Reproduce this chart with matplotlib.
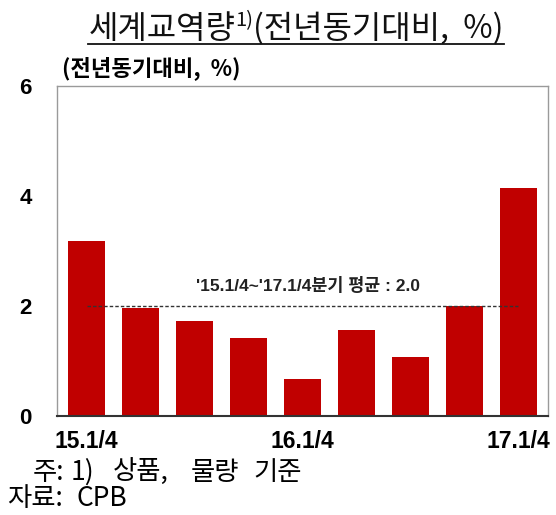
import matplotlib
matplotlib.use("Agg")
import matplotlib.pyplot as plt
from matplotlib.lines import Line2D

plt.rcParams['font.family'] = ['Noto Sans CJK KR', 'DejaVu Sans']

categories = ['15.1/4', '15.2/4', '15.3/4', '15.4/4', '16.1/4', '16.2/4', '16.3/4', '16.4/4', '17.1/4']
values = [3.18, 1.96, 1.73, 1.42, 0.68, 1.56, 1.07, 2.00, 4.14]
shown_labels = {0: '15.1/4', 4: '16.1/4', 8: '17.1/4'}
avg_value = 2.0
avg_label = "'15.1/4~'17.1/4분기 평균 : 2.0"
yticks = [0, 2, 4, 6]
note_words = ['주:', '1)', '상품,', '물량', '기준']
source_words = ['자료:', 'CPB']

W, H = 556, 515
fig = plt.figure(figsize=(W / 100, H / 100), dpi=100)
ax = fig.add_axes([57 / W, 1 - 416 / H, 491 / W, 330 / H])

x = list(range(len(categories)))
ax.bar(x, values, width=0.68, color='#C00000', zorder=2)
ax.plot([0, len(categories) - 1], [avg_value, avg_value], color='#333333',
        linestyle=(0, (2.5, 1.5)), linewidth=1.0, zorder=3)
ax.text(4.1, avg_value + 0.22, avg_label, ha='center', va='bottom', fontsize=12.5,
        fontweight='bold', family=['Liberation Sans', 'Noto Sans CJK KR'], color='#222222')

ax.set_xlim(-0.55, len(categories) - 0.45)
ax.set_ylim(0, 6)
ax.set_yticks(yticks)
ax.set_yticklabels([str(v) for v in yticks], fontsize=16, fontweight='bold',
                   family=['Liberation Sans'])
ax.set_xticks(list(shown_labels.keys()))
ax.set_xticklabels(list(shown_labels.values()), fontsize=16.5, fontweight='bold',
                   family=['Liberation Sans'])
ax.tick_params(axis='y', length=0, pad=18)
ax.tick_params(axis='x', length=3, direction='in', pad=10, color='#888888')
for s in ['left', 'top', 'right']:
    ax.spines[s].set_color('#9a9a9a')
    ax.spines[s].set_linewidth(1.0)
ax.spines['bottom'].set_color('#333333')
ax.spines['bottom'].set_linewidth(1.5)

# y-axis unit label
fig.text(62 / W, 1 - 68 / H, '(전년동기대비,  %)', ha='left', va='center',
         fontsize=16, fontweight='bold', family=['Noto Sans CJK KR'])

# Title with superscript and underline
fig.canvas.draw()
renderer = fig.canvas.get_renderer()
title_y = 1 - 38 / H
parts = [('세계교역량', 23, 0), ('1)', 14.5, 12), ('(전년동기대비,  %)', 23, 0)]
texts = []
for s, fs, dy in parts:
    t = fig.text(0, title_y + dy / H, s, fontsize=fs, ha='left', va='baseline', color='#111111')
    texts.append(t)
widths = [t.get_window_extent(renderer).width for t in texts]
total = sum(widths)
cx = 296
xpos = cx - total / 2
for t, w in zip(texts, widths):
    t.set_x(xpos / W)
    xpos += w
fig.add_artist(Line2D([(cx - total / 2) / W, (cx + total / 2) / W],
                      [title_y - 6 / H, title_y - 6 / H], color='#111111', linewidth=1.3))

# footnotes (word by word, wide spacing as in the reference)
note_x = [33, 71, 113, 191, 253]
for wd, px in zip(note_words, note_x):
    fig.text(px / W, 1 - 472 / H, wd, fontsize=19, ha='left', va='center')
source_x = [7, 76]
for wd, px in zip(source_words, source_x):
    fig.text(px / W, 1 - 498 / H, wd, fontsize=19, ha='left', va='center')

fig.savefig('out.png', dpi=100)
